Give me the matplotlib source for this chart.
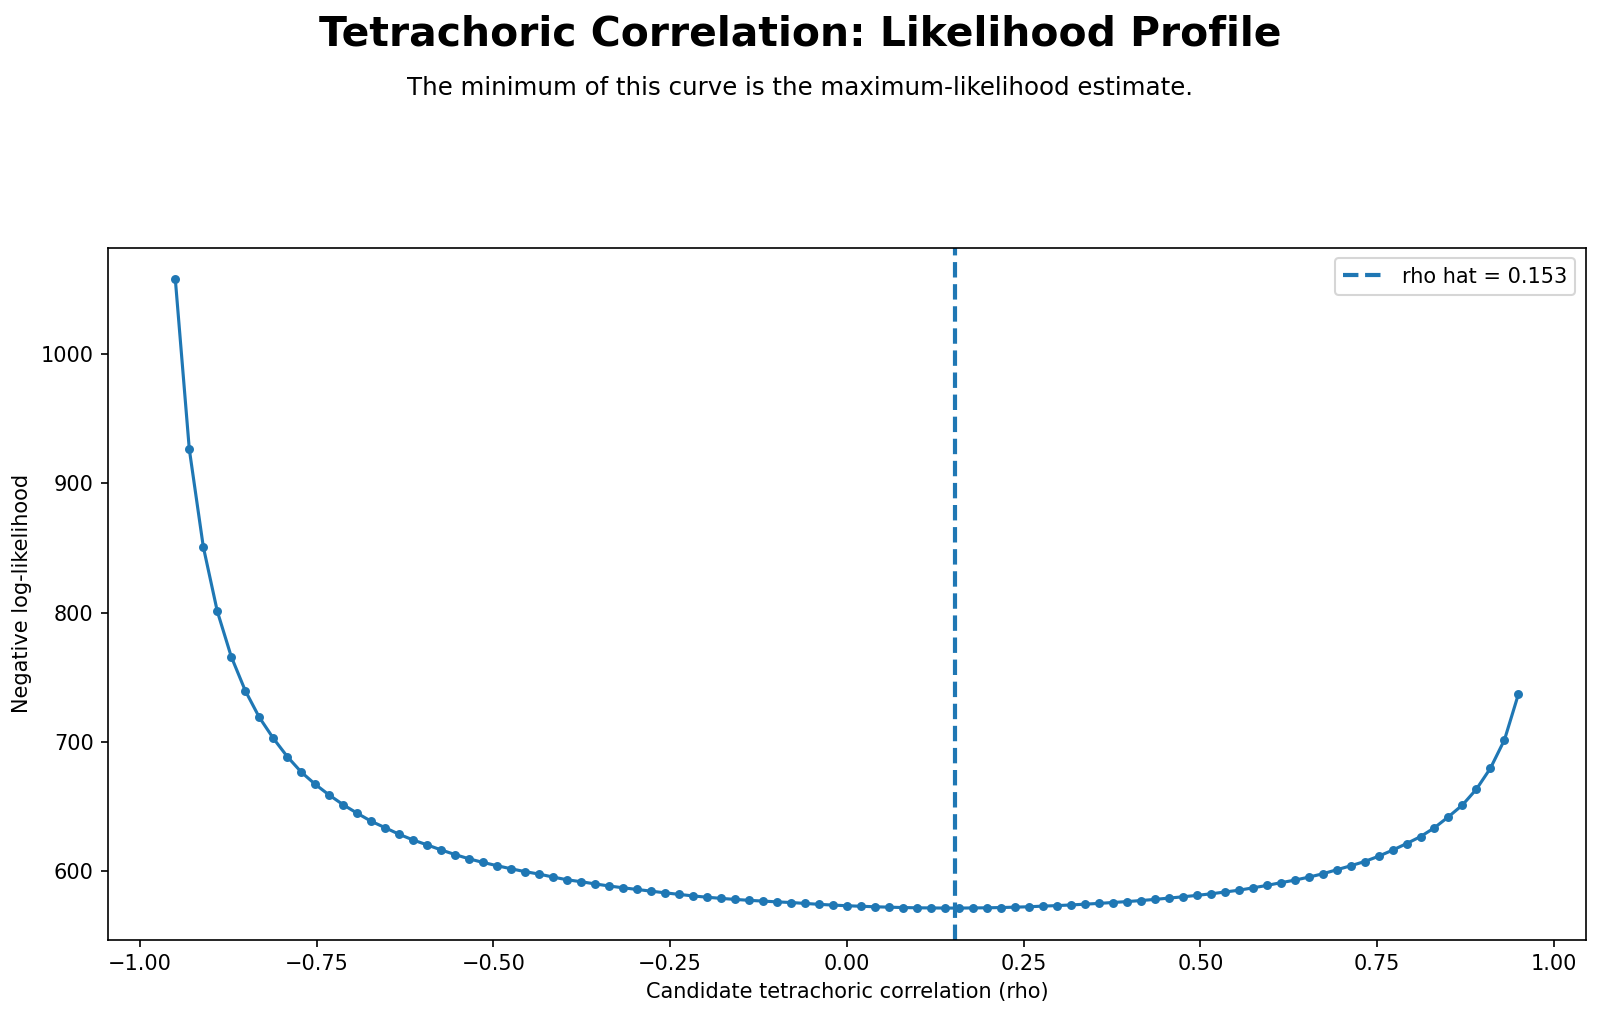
import numpy as np
import matplotlib
matplotlib.use('Agg')
import matplotlib.pyplot as plt

# candidate rho grid (97 evenly spaced points) and the profile
rho_grid = np.linspace(-0.95, 0.95, 97)
neg_loglik = [
    1058.0, 926.4, 850.9, 801.0, 765.8, 739.5, 718.9, 702.7, 688.5, 676.5,
    667.0, 658.7, 651.2, 644.6, 638.4, 633.4, 628.3, 623.9, 620.1, 616.2,
    612.6, 609.3, 606.5, 604.0, 601.6, 599.4, 597.5, 595.2, 593.1, 591.6,
    589.9, 588.3, 586.9, 585.6, 584.3, 583.0, 581.8, 580.6, 579.6, 578.7,
    577.9, 577.2, 576.6, 576.0, 575.5, 574.8, 574.1, 573.5, 573.0, 572.6,
    572.2, 571.9, 571.6, 571.4, 571.3, 571.2, 571.2, 571.3, 571.4, 571.6,
    571.9, 572.2, 572.7, 573.1, 573.6, 574.2, 574.8, 575.5, 576.2, 577.0,
    577.9, 578.9, 579.9, 581.0, 582.2, 583.6, 585.0, 586.8, 588.7, 590.8,
    592.8, 595.1, 597.7, 600.8, 603.9, 607.2, 611.3, 616.0, 621.1, 626.5,
    633.4, 641.9, 651.0, 663.3, 679.5, 701.4, 736.9,
]
rho_hat = 0.153

title = 'Tetrachoric Correlation: Likelihood Profile'
subtitle = 'The minimum of this curve is the maximum-likelihood estimate.'

dpi = 150
fig = plt.figure(figsize=(1600 / dpi, 1017 / dpi), dpi=dpi)
ax = fig.add_axes([0.0676, 0.0762, 0.9234, 0.6801])

ax.plot(rho_grid, neg_loglik, color='#1f77b4', marker='o', markersize=3.3, linewidth=1.5)
ax.axvline(rho_hat, color='#1f77b4', linestyle='--', linewidth=2, label=f'rho hat = {rho_hat:.3f}')

ax.set_xlabel('Candidate tetrachoric correlation (rho)')
ax.set_ylabel('Negative log-likelihood')
ax.legend(loc='upper right')

fig.text(0.5, 0.966, title, ha='center', va='center', fontsize=19.6, fontweight='bold')
fig.text(0.5, 0.913, subtitle, ha='center', va='center', fontsize=11.75)

fig.savefig('out.png', dpi=dpi)
